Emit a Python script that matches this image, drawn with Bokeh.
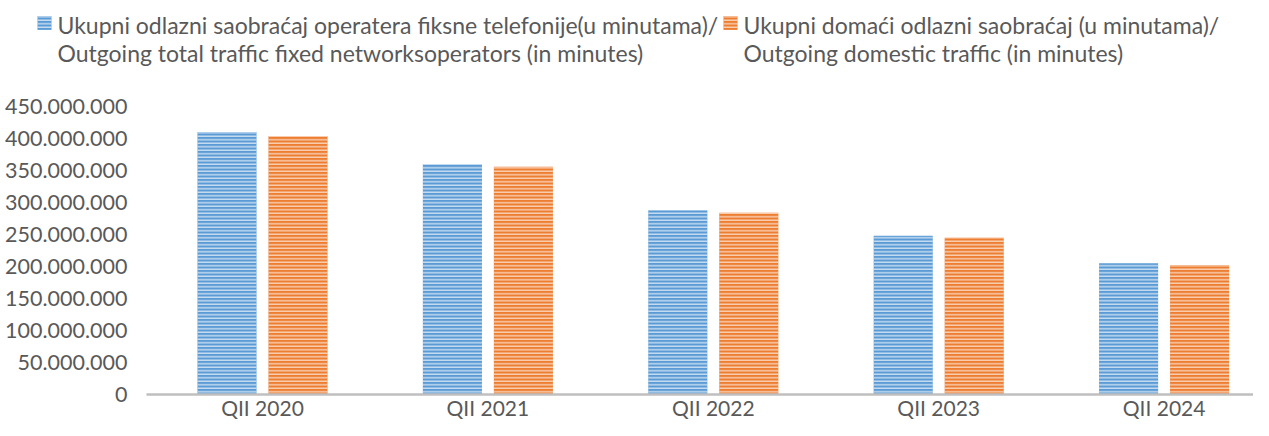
from bokeh.plotting import figure
from bokeh.models import Range1d, FixedTicker, ColumnDataSource
from bokeh.layouts import column
from bokeh.transform import dodge
from bokeh.embed import file_html
from bokeh.resources import INLINE

categories = ["QII 2020", "QII 2021", "QII 2022", "QII 2023", "QII 2024"]
total_traffic = [410_000_000, 360_000_000, 288_000_000, 248_000_000, 205_000_000]
domestic_traffic = [404_000_000, 356_000_000, 284_000_000, 245_000_000, 202_000_000]
series_labels = [
    ["Ukupni odlazni saobraćaj operatera fiksne telefonije(u minutama)/",
     "Outgoing total traffic fixed networksoperators (in minutes)"],
    ["Ukupni domaći odlazni saobraćaj (u minutama)/",
     "Outgoing domestic traffic  (in minutes)"],
]
y_ticks = [0, 50_000_000, 100_000_000, 150_000_000, 200_000_000,
           250_000_000, 300_000_000, 350_000_000, 400_000_000, 450_000_000]

BLUE = "#5B9BD5"
BLUE_H = "#DCE9F6"
ORANGE = "#ED7D31"
ORANGE_H = "#FBE0CC"
TEXT = "#595959"
FONT = "Lato"

W = 1253
LEG_H = 74

# ---- legend strip ----
leg = figure(width=W, height=LEG_H, x_range=Range1d(0, W), y_range=Range1d(LEG_H, 0),
             output_backend="svg", toolbar_location=None,
             min_border=0, outline_line_color=None)
leg.frame_align = False
leg.axis.visible = False
leg.grid.visible = False
colors = [(BLUE, BLUE_H), (ORANGE, ORANGE_H)]
marker_x = [44, 730]
text_x = [57, 743]
for (fc, hc), mx, tx, lines in zip(colors, marker_x, text_x, series_labels):
    leg.rect(x=[mx], y=[22.5], width=14, height=14, fill_color=fc, line_color=None,
             hatch_pattern="horizontal_line", hatch_color=hc, hatch_scale=3.5, hatch_weight=1.2)
    leg.text(x=[tx, tx], y=[24, 52], text=lines, text_font={"value": FONT},
             text_font_size="23px", text_color=TEXT, text_baseline="alphabetic",
             text_align="left")

# ---- main chart ----
src = ColumnDataSource(dict(x=list(range(len(categories))), total=total_traffic,
                            domestic=domestic_traffic))
p = figure(width=W, height=354, x_range=Range1d(-0.5146, 4.3966),
           y_range=Range1d(0, 468_750_000),
           output_backend="svg", toolbar_location=None,
           min_border_left=146, min_border_right=0, min_border_top=20,
           min_border_bottom=34, outline_line_color=None)
p.frame_align = False
p.grid.visible = False
p.vbar(x=dodge("x", -0.1575, range=p.x_range), top="total", width=0.262, source=src,
       fill_color=BLUE, line_color=None, hatch_pattern="horizontal_line",
       hatch_color=BLUE_H, hatch_scale=3.5, hatch_weight=1.2)
p.vbar(x=dodge("x", 0.1575, range=p.x_range), top="domestic", width=0.262, source=src,
       fill_color=ORANGE, line_color=None, hatch_pattern="horizontal_line",
       hatch_color=ORANGE_H, hatch_scale=3.5, hatch_weight=1.2)

p.xaxis.ticker = FixedTicker(ticks=list(range(len(categories))))
p.xaxis.major_label_overrides = {i: c for i, c in enumerate(categories)}
p.xaxis.axis_line_color = "#BFBFBF"
p.xaxis.axis_line_width = 2.5
p.xaxis.major_label_standoff = 0
p.xaxis.major_label_text_font_size = "21px"

p.yaxis.ticker = FixedTicker(ticks=y_ticks)
p.yaxis.major_label_overrides = {t: f"{t:,}".replace(",", ".") for t in y_ticks}
p.yaxis.axis_line_color = None
p.yaxis.major_label_standoff = 19
p.yaxis.major_label_text_font_size = "21.5px"

for ax in (p.xaxis, p.yaxis):
    ax.major_tick_line_color = None
    ax.minor_tick_line_color = None
    ax.major_tick_out = 0
    ax.major_tick_in = 0
    ax.minor_tick_out = 0
    ax.minor_tick_in = 0
    ax.major_label_text_font = FONT
    ax.major_label_text_color = TEXT

layout = column(leg, p, spacing=0)
open("out.html", "w").write(file_html(layout, INLINE))
